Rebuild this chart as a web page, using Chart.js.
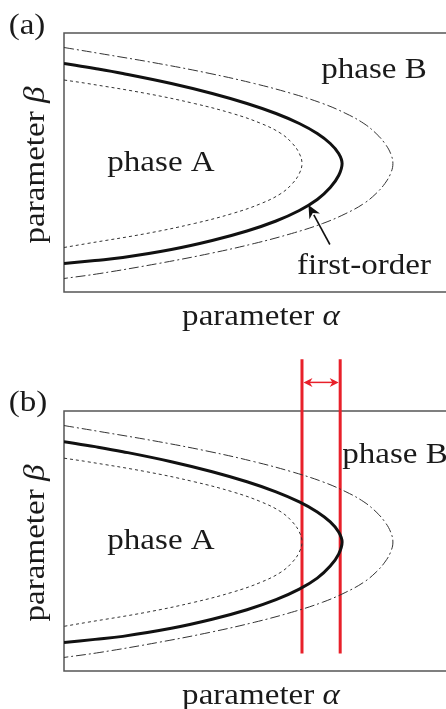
<!DOCTYPE html>
<html>
<head>
<meta charset="utf-8">
<script src="https://cdn.jsdelivr.net/npm/chart.js@4.4.1/dist/chart.umd.min.js"></script>
<style>
html, body { margin: 0; padding: 0; background: #fff; width: 446px; height: 709px; overflow: hidden; }
.panel { position: absolute; left: 0; width: 446px; }
#wrapA { top: 0; height: 354px; }
#wrapB { top: 354px; height: 355px; }
</style>
</head>
<body>
<div class="panel" id="wrapA"><canvas id="chartA" width="446" height="354"></canvas></div>
<div class="panel" id="wrapB"><canvas id="chartB" width="446" height="355"></canvas></div>
<script>
// phase boundaries (alpha at each beta); lower branch sits a bit further out
const solidBeta  = [1.0, 0.95, 0.9, 0.8, 0.7, 0.6, 0.5, 0.4, 0.3, 0.2, 0.1, 0, -0.12, -0.24, -0.36, -0.47, -0.575, -0.675, -0.77, -0.86, -0.94, -0.97, -1.0];
const solidAlpha = [0, 0.81, 1.54, 2.81, 3.88, 4.79, 5.55, 6.16, 6.63, 6.97, 7.19, 7.28, 7.19, 6.97, 6.63, 6.16, 5.55, 4.79, 3.88, 2.81, 1.54, 0.81, 0];

const innerBeta  = [0.835, 0.8, 0.7, 0.6, 0.5, 0.4, 0.3, 0.2, 0.1, 0, -0.1, -0.2, -0.3, -0.4, -0.5, -0.6, -0.7, -0.8, -0.84];
const innerAlpha = [0, 0.61, 2.16, 3.41, 4.41, 5.16, 5.68, 5.98, 6.16, 6.23, 6.16, 5.98, 5.68, 5.16, 4.41, 3.41, 2.16, 0.61, 0];

const outerBeta  = [1.16, 1.1, 1.0, 0.9, 0.8, 0.7, 0.6, 0.5, 0.4, 0.3, 0.2, 0.1, 0, -0.1, -0.2, -0.3, -0.4, -0.5, -0.6, -0.7, -0.8, -0.9, -1.0, -1.1, -1.15];
const outerAlpha = [0, 0.94, 2.47, 3.82, 4.98, 5.96, 6.77, 7.38, 7.85, 8.17, 8.40, 8.55, 8.61, 8.55, 8.40, 8.17, 7.85, 7.38, 6.77, 5.96, 4.98, 3.82, 2.47, 0.94, 0];

// coexistence window in panel (b)
const windowAlpha = [6.23, 7.23];
const windowBeta = [1.82, -1.11];
const windowArrowBeta = 1.59;

// "first-order" pointer: tail then head
const pointerAlpha = [6.96, 6.40];
const pointerBeta = [-0.81, -0.415];

const alphaRange = [0, 10];
const betaRange = [-1.285, 1.305];

const FONT = "'Liberation Serif', 'Times New Roman', serif";
const SIZE = 29;
const STRETCH = 1.14;

// label anchors (canvas px) for each panel
const layoutA = {
    padding: { left: 64, top: 33, right: 0, bottom: 62 },
    letter: [27, 34], phaseA: [161, 170.5], phaseB: [374, 78],
    alphaTitle: [261, 325], betaTitle: [44, 165]
};
const layoutB = {
    padding: { left: 64, top: 57, right: 0, bottom: 38 },
    letter: [28, 57], phaseA: [161, 195], phaseB: [395, 109],
    alphaTitle: [261, 350], betaTitle: [44, 189]
};

function zip(xs, ys) {
    return xs.map((x, i) => ({ x: x, y: ys[i] }));
}

function textWidth(ctx, parts) {
    let w = 0;
    parts.forEach(p => {
        ctx.font = (p[1] ? 'italic ' : '') + SIZE + 'px ' + FONT;
        w += ctx.measureText(p[0]).width;
    });
    return w;
}

// draws a label centred on x, stretched horizontally like the original
function drawText(ctx, parts, pos, rotate) {
    ctx.save();
    ctx.translate(pos[0], pos[1]);
    if (rotate)
        ctx.rotate(-Math.PI / 2);
    ctx.scale(STRETCH, 1);
    ctx.fillStyle = '#1a1a1a';
    ctx.textBaseline = 'alphabetic';
    ctx.textAlign = 'left';
    let cx = -textWidth(ctx, parts) / 2;
    parts.forEach(p => {
        ctx.font = (p[1] ? 'italic ' : '') + SIZE + 'px ' + FONT;
        ctx.fillText(p[0], cx, 0);
        cx += ctx.measureText(p[0]).width;
    });
    ctx.restore();
}

function arrowHead(ctx, x0, y0, x1, y1, len, half) {
    const ang = Math.atan2(y1 - y0, x1 - x0);
    const c = Math.cos(ang), s = Math.sin(ang);
    ctx.beginPath();
    ctx.moveTo(x1, y1);
    ctx.lineTo(x1 - len * c + half * s, y1 - len * s - half * c);
    ctx.lineTo(x1 - len * c * 0.7, y1 - len * s * 0.7);
    ctx.lineTo(x1 - len * c - half * s, y1 - len * s + half * c);
    ctx.closePath();
    ctx.fill();
}

function curveSets() {
    return [
        {
            data: zip(outerAlpha, outerBeta),
            borderColor: '#333',
            borderWidth: 1,
            borderDash: [10, 3, 2, 3],
            showLine: true, pointRadius: 0, tension: 0.4
        },
        {
            data: zip(innerAlpha, innerBeta),
            borderColor: '#333',
            borderWidth: 1,
            borderDash: [3, 3],
            showLine: true, pointRadius: 0, tension: 0.4
        },
        {
            data: zip(solidAlpha, solidBeta),
            borderColor: '#111',
            borderWidth: 3,
            showLine: true, pointRadius: 0, tension: 0.4
        }
    ];
}

function makePanel(canvasId, letter, lay, showWindow) {
    const datasets = curveSets();
    if (showWindow) {
        windowAlpha.forEach(a => {
            datasets.push({
                data: zip([a, a], windowBeta),
                borderColor: '#e8202a',
                borderWidth: 3,
                showLine: true, pointRadius: 0,
                clip: false
            });
        });
    }

    const decorations = {
        id: 'decorations' + letter,
        beforeDatasetsDraw(chart) {
            const ctx = chart.ctx;
            const a = chart.chartArea;
            ctx.save();
            ctx.strokeStyle = '#555';
            ctx.lineWidth = 1.5;
            ctx.beginPath();
            ctx.moveTo(a.right + 2, a.top);
            ctx.lineTo(a.left, a.top);
            ctx.lineTo(a.left, a.bottom);
            ctx.lineTo(a.right + 2, a.bottom);
            ctx.stroke();
            ctx.restore();
        },
        afterDraw(chart) {
            const ctx = chart.ctx;
            const xs = chart.scales.x;
            const ys = chart.scales.y;

            drawText(ctx, [['(' + letter + ')', false]], lay.letter);
            drawText(ctx, [['phase A', false]], lay.phaseA);
            drawText(ctx, [['phase B', false]], lay.phaseB);
            drawText(ctx, [['parameter ', false], ['\u03b1', true]], lay.alphaTitle);
            drawText(ctx, [['parameter ', false], ['\u03b2', true]], lay.betaTitle, true);

            if (!showWindow) {
                drawText(ctx, [['first-order', false]], [364, 274]);
                const x0 = xs.getPixelForValue(pointerAlpha[0]);
                const y0 = ys.getPixelForValue(pointerBeta[0]);
                const x1 = xs.getPixelForValue(pointerAlpha[1]);
                const y1 = ys.getPixelForValue(pointerBeta[1]);
                ctx.save();
                ctx.strokeStyle = '#111';
                ctx.fillStyle = '#111';
                ctx.lineWidth = 1.6;
                ctx.beginPath();
                ctx.moveTo(x0, y0);
                ctx.lineTo(x0 + (x1 - x0) * 0.75, y0 + (y1 - y0) * 0.75);
                ctx.stroke();
                arrowHead(ctx, x0, y0, x1, y1, 13, 6);
                ctx.restore();
            } else {
                const xl = xs.getPixelForValue(windowAlpha[0]);
                const xr = xs.getPixelForValue(windowAlpha[1]);
                const y = ys.getPixelForValue(windowArrowBeta);
                ctx.save();
                ctx.strokeStyle = '#e8202a';
                ctx.fillStyle = '#e8202a';
                ctx.lineWidth = 1.5;
                ctx.beginPath();
                ctx.moveTo(xl + 5, y);
                ctx.lineTo(xr - 5, y);
                ctx.stroke();
                arrowHead(ctx, xr, y, xl + 1.5, y, 9, 4.5);
                arrowHead(ctx, xl, y, xr - 1.5, y, 9, 4.5);
                ctx.restore();
            }
        }
    };

    const canvas = document.getElementById(canvasId);
    return new Chart(canvas.getContext('2d'), {
        type: 'scatter',
        data: { datasets: datasets },
        options: {
            responsive: false,
            animation: false,
            layout: { padding: lay.padding },
            plugins: { legend: { display: false }, tooltip: { enabled: false } },
            scales: {
                x: { type: 'linear', display: false, min: alphaRange[0], max: alphaRange[1] },
                y: { type: 'linear', display: false, min: betaRange[0], max: betaRange[1] }
            }
        },
        plugins: [decorations]
    });
}

makePanel('chartA', 'a', layoutA, false);
makePanel('chartB', 'b', layoutB, true);
</script>
</body>
</html>
